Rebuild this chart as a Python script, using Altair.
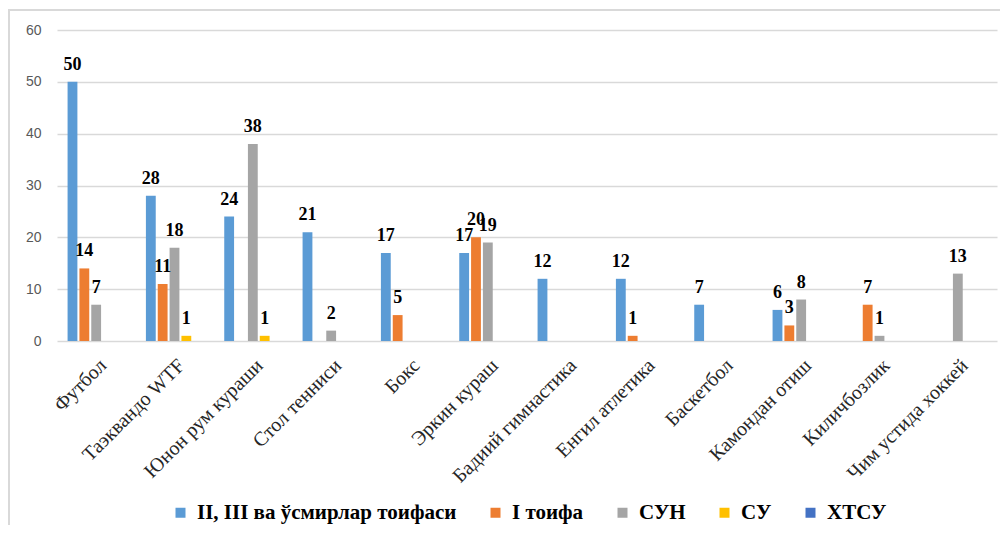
import altair as alt
import pandas as pd

categories = ["Футбол", "Таэквандо WTF", "Юнон рум кураши", "Стол тенниси", "Бокс",
              "Эркин кураш", "Бадиий гимнастика", "Енгил атлетика", "Баскетбол",
              "Камондан отиш", "Киличбозлик", "Чим устида хоккей"]
series = ["II, III ва ўсмирлар тоифаси", "I тоифа", "СУН", "СУ", "ХТСУ"]
colors = ["#5B9BD5", "#ED7D31", "#A5A5A5", "#FFC000", "#4472C4"]

s_ii_iii = [50, 28, 24, 21, 17, 17, 12, 12, 7, 6, 0, 0]
s_i = [14, 11, 0, 0, 5, 20, 0, 1, 0, 3, 7, 0]
s_sun = [7, 18, 38, 2, 0, 19, 0, 0, 0, 8, 1, 13]
s_su = [0, 1, 1, 0, 0, 0, 0, 0, 0, 0, 0, 0]
s_xtsu = [0, 0, 0, 0, 0, 0, 0, 0, 0, 0, 0, 0]

SERIF = "serif"

rows = []
for name, vals in zip(series, [s_ii_iii, s_i, s_sun, s_su, s_xtsu]):
    for c, v in zip(categories, vals):
        if v > 0:
            rows.append({"cat": c, "series": name, "value": v})
df = pd.DataFrame(rows)

x = alt.X("cat:N", sort=categories,
          scale=alt.Scale(domain=categories, paddingInner=0.27, paddingOuter=0.135),
          axis=alt.Axis(title=None, labelAngle=-45, labelFont=SERIF,
                        labelFontSize=20, labelColor="#262626", ticks=False,
                        domain=False, labelPadding=14, labelLimit=400))
xo = alt.XOffset("series:N", sort=series,
                 scale=alt.Scale(domain=series, paddingInner=0.17, paddingOuter=0))
y = alt.Y("value:Q", scale=alt.Scale(domain=[0, 60]),
          axis=alt.Axis(title=None, values=[0, 10, 20, 30, 40, 50, 60], ticks=False,
                        domain=False, labelFont="Liberation Sans", labelFontSize=14,
                        labelColor="#595959", labelPadding=16, gridColor="#d9d9d9",
                        gridWidth=1.5))
color = alt.Color("series:N", sort=series,
                  scale=alt.Scale(domain=series, range=colors),
                  legend=alt.Legend(title=None, orient="none", direction="horizontal",
                                    legendX=113, legendY=472, symbolType="square",
                                    symbolSize=100, symbolStrokeWidth=0,
                                    labelFont=SERIF, labelFontSize=21,
                                    labelFontWeight="bold", labelColor="#000000",
                                    labelLimit=0, columnPadding=28, labelOffset=6,
                                    padding=0))

bars = alt.Chart(df).mark_bar().encode(x=x, xOffset=xo, y=y, color=color)
labels = alt.Chart(df).mark_text(font=SERIF, fontSize=18, fontWeight="bold",
                                 color="#000000",
                                 dy=-12, baseline="alphabetic").encode(
    x=x, xOffset=xo, y=y, text="value:Q")

frame = alt.Chart(pd.DataFrame({"a": [0]})).mark_rect(
    fill=None, stroke="#d9d9d9", strokeWidth=2, clip=False).encode(
    x=alt.value(-48), x2=alt.value(1100), y=alt.value(-20), y2=alt.value(700))

chart = alt.layer(frame, bars, labels).properties(
    width=940, height=311,
    padding={"left": 49, "top": 22, "right": 3, "bottom": 184},
    autosize=alt.AutoSizeParams(type="none"),
).configure_view(stroke=None)

chart.save("out.html", embed_options={"renderer": "svg", "actions": False})
